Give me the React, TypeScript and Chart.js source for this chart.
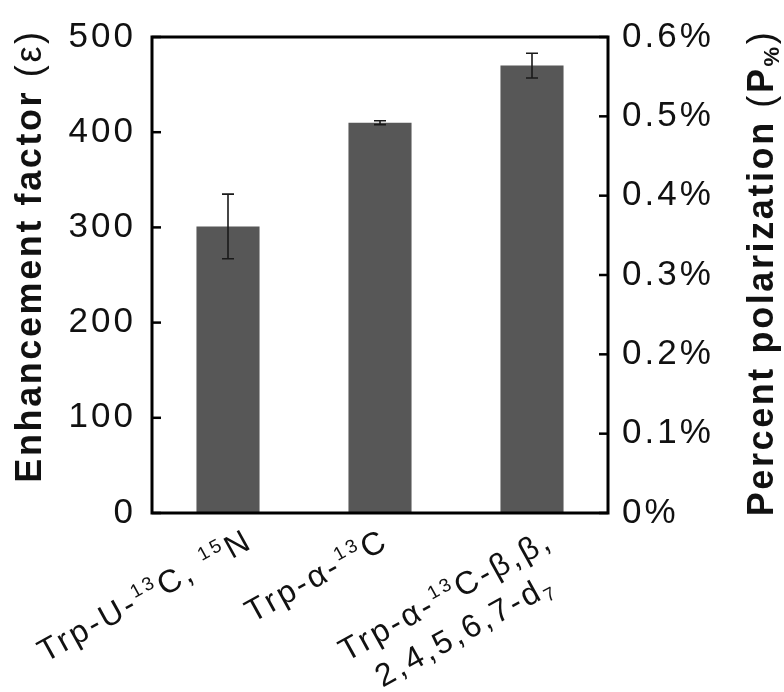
import React, { useEffect, useRef } from 'react';
import { Chart, registerables } from 'chart.js';

Chart.register(...registerables);

// ---------------- data ----------------
const categories = ['Trp-U-13C, 15N', 'Trp-α-13C', 'Trp-α-13C-β,β, 2,4,5,6,7-d7'];
const enhancement = [301, 410, 470];
const enhancementError = [34, 2, 13];
const rightTickLabels = ['0%', '0.1%', '0.2%', '0.3%', '0.4%', '0.5%', '0.6%'];

type Seg = { t: string; k?: 'n' | 'sup' | 'sub'; b?: boolean };

// rich text of the category labels (one list of lines per category)
const categoryLines: Seg[][][] = [
  [[{ t: 'Trp-U-' }, { t: '13', k: 'sup' }, { t: 'C, ' }, { t: '15', k: 'sup' }, { t: 'N' }]],
  [[{ t: 'Trp-α-' }, { t: '13', k: 'sup' }, { t: 'C' }]],
  [
    [{ t: 'Trp-α-' }, { t: '13', k: 'sup' }, { t: 'C-β,β,' }],
    [{ t: '2,4,5,6,7-d' }, { t: '7', k: 'sub' }],
  ],
];

const leftTitle: Seg[] = [{ t: 'Enhancement factor ', b: true }, { t: '(ε)', b: false }];
const rightTitle: Seg[] = [
  { t: 'Percent polarization ', b: true },
  { t: '(', b: false },
  { t: 'P', b: true },
  { t: '%', k: 'sub', b: true },
  { t: ')', b: false },
];

// ---------------- layout / style ----------------
const FAMILY = '"Liberation Sans", Arial, Helvetica, sans-serif';
const LABEL_DX = [24, 8, 20];
const LABEL_BASE_Y = 548;
const LABEL_ANGLE = (-29 * Math.PI) / 180;
const TEXT = '#111111';

function fontFor(s: Seg, size: number, boldDefault: boolean) {
  const small = s.k === 'sup' || s.k === 'sub';
  const sz = small ? Math.round(size * 0.6) : size;
  const bold = s.b === undefined ? boldDefault : s.b;
  return `${bold ? 'bold ' : ''}${sz}px ${FAMILY}`;
}
function segDy(s: Seg, size: number) {
  if (s.k === 'sup') return -size * 0.4;
  if (s.k === 'sub') return size * 0.18;
  return 0;
}
function measureSegs(ctx: CanvasRenderingContext2D, segs: Seg[], size: number, bold: boolean) {
  let w = 0;
  for (const s of segs) {
    ctx.font = fontFor(s, size, bold);
    w += ctx.measureText(s.t).width;
  }
  return w;
}
function drawSegs(ctx: CanvasRenderingContext2D, segs: Seg[], x: number, y: number, size: number, bold: boolean) {
  for (const s of segs) {
    ctx.font = fontFor(s, size, bold);
    ctx.fillText(s.t, x, y + segDy(s, size));
    x += ctx.measureText(s.t).width;
  }
}

const decorPlugin = {
  id: 'decor',
  beforeDraw(chart: any) {
    (chart.ctx as any).letterSpacing = '3px';
  },
  afterDatasetsDraw(chart: any) {
    const ctx: CanvasRenderingContext2D = chart.ctx;
    const { left, right, top, bottom } = chart.chartArea;
    const xs = chart.scales.x;
    const ys = chart.scales.y;
    const y1 = chart.scales.y1;
    ctx.save();
    // error bars
    ctx.strokeStyle = '#1a1a1a';
    ctx.lineWidth = 1.6;
    enhancement.forEach((v, i) => {
      const cx = xs.getPixelForValue(i);
      const yt = ys.getPixelForValue(v + enhancementError[i]);
      const yb = ys.getPixelForValue(v - enhancementError[i]);
      ctx.beginPath();
      ctx.moveTo(cx, yt);
      ctx.lineTo(cx, yb);
      ctx.moveTo(cx - 6, yt);
      ctx.lineTo(cx + 6, yt);
      ctx.moveTo(cx - 6, yb);
      ctx.lineTo(cx + 6, yb);
      ctx.stroke();
    });
    // inward ticks
    ctx.strokeStyle = '#000';
    ctx.lineWidth = 2.5;
    ys.ticks.forEach((t: any) => {
      const py = ys.getPixelForValue(t.value);
      ctx.beginPath();
      ctx.moveTo(left, py);
      ctx.lineTo(left + 9, py);
      ctx.stroke();
    });
    y1.ticks.forEach((t: any) => {
      const py = y1.getPixelForValue(t.value);
      ctx.beginPath();
      ctx.moveTo(right, py);
      ctx.lineTo(right - 9, py);
      ctx.stroke();
    });
    // frame
    ctx.lineWidth = 3;
    ctx.strokeRect(left, top, right - left, bottom - top);
    ctx.restore();
  },
  afterDraw(chart: any) {
    const ctx: CanvasRenderingContext2D = chart.ctx;
    const xs = chart.scales.x;
    ctx.save();
    (ctx as any).letterSpacing = '3px';
    ctx.fillStyle = TEXT;
    ctx.textAlign = 'left';
    ctx.textBaseline = 'alphabetic';

    // category labels
    const size = 32;
    categoryLines.forEach((lines, i) => {
      const ax = xs.getPixelForValue(i) + LABEL_DX[i];
      ctx.save();
      ctx.translate(ax, LABEL_BASE_Y);
      ctx.rotate(LABEL_ANGLE);
      const w0 = measureSegs(ctx, lines[0], size, false) - 3;
      lines.forEach((segs, li) => {
        const w = measureSegs(ctx, segs, size, false) - 3;
        const x = li === 0 ? -w0 : -w0 + (w0 - w) / 2;
        drawSegs(ctx, segs, x, li * 40, size, false);
      });
      ctx.restore();
    });

    // left title
    const tsize = 36;
    (ctx as any).letterSpacing = '2.6px';
    {
      const w = measureSegs(ctx, leftTitle, tsize, true);
      ctx.save();
      ctx.translate(41, 256);
      ctx.rotate(-Math.PI / 2);
      drawSegs(ctx, leftTitle, -w / 2, 0, tsize, true);
      ctx.restore();
    }
    {
      const w = measureSegs(ctx, rightTitle, tsize, true);
      ctx.save();
      ctx.translate(773, 273);
      ctx.rotate(-Math.PI / 2);
      drawSegs(ctx, rightTitle, -w / 2, 0, tsize, true);
      ctx.restore();
    }
    ctx.restore();
  },
};

export default function App() {
  const ref = useRef<HTMLCanvasElement | null>(null);
  useEffect(() => {
    document.body.style.margin = '0';
    const canvas = ref.current!;
    const tickFont = { family: FAMILY, size: 35 };
    const chart = new Chart(canvas, {
      type: 'bar',
      data: {
        labels: categories,
        datasets: [
          {
            data: enhancement,
            backgroundColor: '#575757',
            borderWidth: 0,
            categoryPercentage: 1,
            barPercentage: 0.415,
            yAxisID: 'y',
          },
        ],
      },
      options: {
        animation: false,
        responsive: false,
        devicePixelRatio: 1,
        layout: { padding: { top: 32, left: 0, right: 0, bottom: 0 } },
        plugins: { legend: { display: false }, tooltip: { enabled: false } },
        scales: {
          x: {
            type: 'category',
            grid: { display: false },
            border: { display: false },
            ticks: { display: false },
            afterFit: (s: any) => {
              s.height = 179;
            },
          },
          y: {
            type: 'linear',
            position: 'left',
            min: 0,
            max: 500,
            grid: { display: false, drawTicks: false },
            border: { display: false },
            ticks: { stepSize: 100, font: tickFont, color: TEXT, padding: 16 },
            afterFit: (s: any) => {
              s.width = 152;
            },
          },
          y1: {
            type: 'linear',
            position: 'right',
            display: true,
            min: 0,
            max: 0.6,
            grid: { display: false, drawTicks: false },
            border: { display: false },
            ticks: {
              stepSize: 0.1,
              font: tickFont,
              color: TEXT,
              padding: 14,
              callback: (_v: any, i: number) => rightTickLabels[i],
            },
            afterFit: (s: any) => {
              s.width = 176;
            },
          },
        },
      },
      plugins: [decorPlugin],
    });
    return () => chart.destroy();
  }, []);
  return <canvas ref={ref} width={784} height={692} style={{ display: 'block' }} />;
}
